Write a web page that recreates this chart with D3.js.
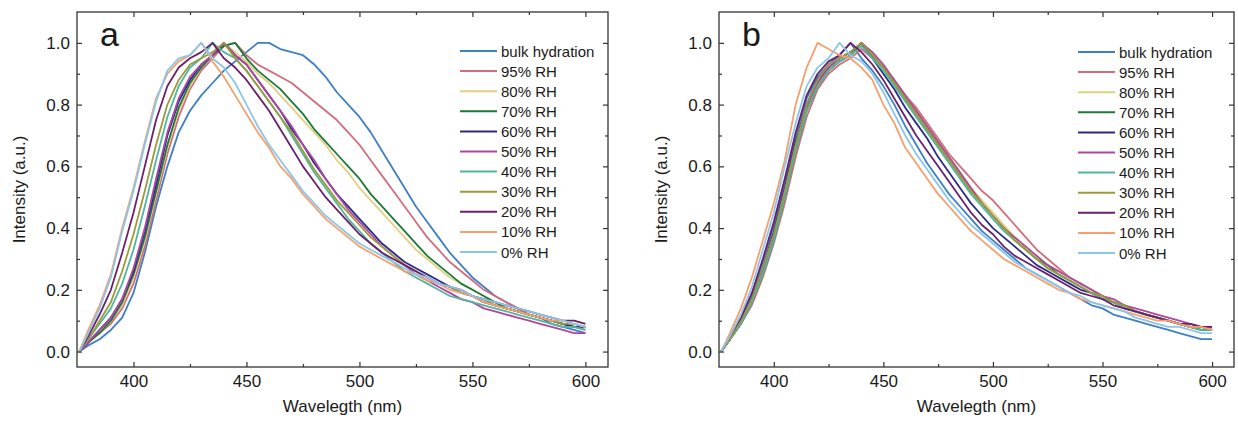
<!DOCTYPE html>
<html lang="en">
<head>
<meta charset="UTF-8">
<title>Hydration spectra</title>
<style>
  body { margin: 0; background: #fff; }
  text { font-family: Arial, "Liberation Sans", sans-serif; fill: #1a1a1a; }
</style>
</head>
<body>
<svg id="chart" width="1238" height="421"></svg>
<script src="https://d3js.org/d3.v7.min.js"></script>
<script>
// wavelength grid (nm) shared by every curve
const wavelengths = [376,380,385,390,395,400,405,410,415,420,425,430,435,440,445,450,455,460,465,470,475,480,485,490,495,500,505,510,515,520,525,530,535,540,545,550,555,560,565,570,575,580,585,590,595,600];

const seriesNames = ["bulk hydration","95% RH","80% RH","70% RH","60% RH","50% RH","40% RH","30% RH","20% RH","10% RH","0% RH"];
const seriesColors = ["#3d7fc6","#d26e7c","#e3cf80","#1b7a38","#2c2a88","#b0469f","#52b5a0","#9c9b3b","#6b1f6c","#f5a06c","#8bc6ea"];

// panel a
const aBulk = [0.00,0.02,0.04,0.07,0.11,0.19,0.32,0.47,0.60,0.71,0.78,0.83,0.87,0.91,0.94,0.97,1.00,1.00,0.98,0.97,0.96,0.93,0.89,0.84,0.80,0.76,0.71,0.65,0.59,0.53,0.47,0.42,0.37,0.32,0.28,0.24,0.21,0.18,0.16,0.14,0.12,0.11,0.09,0.08,0.07,0.06];
const a95 = [0.00,0.03,0.06,0.09,0.14,0.22,0.34,0.49,0.64,0.76,0.85,0.91,0.95,0.99,1.00,0.96,0.93,0.91,0.89,0.87,0.84,0.81,0.78,0.75,0.71,0.67,0.62,0.57,0.52,0.47,0.42,0.37,0.33,0.29,0.26,0.23,0.20,0.18,0.16,0.14,0.12,0.11,0.10,0.09,0.08,0.07];
const a80 = [0.00,0.03,0.06,0.10,0.15,0.24,0.36,0.51,0.66,0.78,0.86,0.92,0.96,1.00,0.97,0.94,0.90,0.87,0.83,0.79,0.75,0.71,0.67,0.62,0.58,0.53,0.49,0.45,0.41,0.37,0.33,0.30,0.27,0.24,0.22,0.20,0.18,0.16,0.14,0.13,0.12,0.11,0.10,0.09,0.08,0.08];
const a70 = [0.00,0.03,0.06,0.10,0.16,0.25,0.37,0.52,0.67,0.79,0.87,0.92,0.96,0.99,1.00,0.95,0.91,0.88,0.85,0.81,0.77,0.72,0.68,0.64,0.60,0.56,0.51,0.47,0.43,0.39,0.35,0.31,0.28,0.25,0.22,0.20,0.18,0.16,0.14,0.13,0.12,0.11,0.10,0.09,0.08,0.08];
const a60 = [0.00,0.03,0.07,0.11,0.17,0.26,0.39,0.54,0.70,0.81,0.88,0.93,0.96,1.00,0.96,0.93,0.88,0.83,0.78,0.72,0.67,0.61,0.56,0.51,0.47,0.43,0.39,0.35,0.32,0.29,0.27,0.25,0.23,0.21,0.19,0.18,0.16,0.15,0.14,0.13,0.12,0.11,0.10,0.09,0.08,0.08];
const a50 = [0.00,0.03,0.07,0.11,0.17,0.27,0.40,0.56,0.71,0.82,0.89,0.93,0.96,1.00,0.96,0.93,0.88,0.83,0.78,0.73,0.67,0.62,0.56,0.51,0.46,0.42,0.38,0.34,0.31,0.28,0.25,0.23,0.21,0.19,0.17,0.16,0.14,0.13,0.12,0.11,0.10,0.09,0.08,0.07,0.06,0.06];
const a40 = [0.00,0.04,0.09,0.14,0.22,0.33,0.47,0.62,0.76,0.86,0.92,0.95,1.00,0.97,0.95,0.91,0.86,0.81,0.76,0.70,0.64,0.58,0.53,0.48,0.43,0.39,0.35,0.32,0.29,0.26,0.24,0.22,0.20,0.18,0.17,0.16,0.15,0.14,0.13,0.12,0.11,0.10,0.09,0.08,0.08,0.07];
const a30 = [0.00,0.04,0.10,0.16,0.26,0.38,0.52,0.67,0.80,0.88,0.93,0.95,0.97,1.00,0.95,0.91,0.86,0.81,0.76,0.71,0.65,0.59,0.54,0.49,0.45,0.41,0.37,0.34,0.31,0.28,0.26,0.24,0.22,0.21,0.19,0.18,0.17,0.15,0.14,0.13,0.12,0.11,0.10,0.09,0.09,0.08];
const a20 = [0.00,0.05,0.12,0.20,0.32,0.45,0.60,0.75,0.86,0.92,0.95,0.97,1.00,0.95,0.92,0.88,0.83,0.78,0.72,0.66,0.60,0.55,0.50,0.46,0.42,0.38,0.35,0.32,0.30,0.28,0.26,0.24,0.22,0.21,0.20,0.18,0.17,0.16,0.15,0.14,0.13,0.12,0.11,0.10,0.10,0.09];
const a10 = [0.00,0.07,0.15,0.25,0.40,0.53,0.68,0.82,0.90,0.94,0.96,1.00,0.94,0.89,0.83,0.77,0.71,0.66,0.60,0.56,0.51,0.47,0.43,0.40,0.37,0.34,0.32,0.30,0.28,0.26,0.25,0.23,0.22,0.20,0.19,0.18,0.16,0.15,0.14,0.13,0.12,0.11,0.10,0.10,0.09,0.08];
const a0 = [0.00,0.06,0.14,0.24,0.39,0.52,0.67,0.81,0.91,0.95,0.96,1.00,0.95,0.92,0.87,0.80,0.73,0.67,0.62,0.57,0.52,0.48,0.44,0.41,0.38,0.35,0.33,0.31,0.29,0.27,0.25,0.24,0.22,0.21,0.20,0.18,0.17,0.16,0.15,0.14,0.13,0.12,0.11,0.10,0.09,0.08];

// panel b
const bBulk = [0.00,0.04,0.10,0.18,0.29,0.41,0.55,0.70,0.82,0.89,0.93,0.96,1.00,0.95,0.91,0.86,0.80,0.73,0.67,0.61,0.56,0.51,0.47,0.43,0.39,0.36,0.33,0.30,0.27,0.25,0.23,0.21,0.19,0.17,0.15,0.14,0.12,0.11,0.10,0.09,0.08,0.07,0.06,0.05,0.04,0.04];
const b95 = [0.00,0.04,0.09,0.15,0.24,0.35,0.48,0.63,0.76,0.85,0.90,0.93,0.95,0.98,0.95,0.92,0.88,0.83,0.79,0.74,0.69,0.64,0.60,0.56,0.52,0.49,0.45,0.41,0.37,0.33,0.30,0.27,0.24,0.22,0.20,0.18,0.16,0.15,0.13,0.12,0.11,0.10,0.09,0.08,0.07,0.07];
const b80 = [0.00,0.04,0.09,0.16,0.26,0.37,0.51,0.66,0.78,0.86,0.91,0.94,0.96,1.00,0.96,0.92,0.88,0.83,0.78,0.73,0.68,0.63,0.58,0.53,0.49,0.45,0.41,0.37,0.34,0.31,0.28,0.26,0.24,0.22,0.20,0.18,0.16,0.15,0.13,0.12,0.11,0.10,0.09,0.08,0.07,0.07];
const b70 = [0.00,0.04,0.09,0.16,0.25,0.36,0.50,0.65,0.78,0.86,0.91,0.94,0.96,1.00,0.96,0.92,0.87,0.82,0.77,0.72,0.67,0.62,0.57,0.52,0.48,0.44,0.40,0.36,0.33,0.30,0.28,0.25,0.23,0.21,0.19,0.18,0.16,0.15,0.13,0.12,0.11,0.10,0.09,0.08,0.07,0.07];
const b60 = [0.00,0.04,0.10,0.17,0.27,0.39,0.53,0.68,0.80,0.88,0.92,0.95,0.97,1.00,0.95,0.90,0.85,0.79,0.74,0.69,0.63,0.58,0.53,0.48,0.44,0.40,0.37,0.34,0.31,0.28,0.26,0.24,0.22,0.20,0.19,0.17,0.16,0.14,0.13,0.12,0.11,0.10,0.09,0.08,0.08,0.07];
const b50 = [0.00,0.04,0.09,0.16,0.26,0.37,0.51,0.66,0.79,0.87,0.92,0.95,0.97,1.00,0.97,0.93,0.88,0.83,0.78,0.73,0.68,0.63,0.58,0.53,0.48,0.44,0.40,0.37,0.34,0.31,0.28,0.26,0.24,0.22,0.20,0.18,0.17,0.15,0.14,0.13,0.12,0.11,0.10,0.09,0.08,0.08];
const b40 = [0.00,0.04,0.09,0.16,0.25,0.36,0.50,0.65,0.78,0.86,0.91,0.94,0.96,0.99,0.95,0.91,0.86,0.81,0.76,0.71,0.66,0.61,0.56,0.51,0.47,0.43,0.39,0.36,0.33,0.30,0.27,0.25,0.23,0.21,0.19,0.17,0.16,0.14,0.13,0.12,0.11,0.10,0.09,0.08,0.07,0.07];
const b30 = [0.00,0.04,0.10,0.17,0.27,0.38,0.52,0.67,0.80,0.88,0.93,0.95,0.97,1.00,0.96,0.92,0.87,0.82,0.77,0.72,0.67,0.62,0.57,0.52,0.48,0.44,0.40,0.36,0.33,0.30,0.27,0.25,0.23,0.21,0.19,0.18,0.16,0.15,0.13,0.12,0.11,0.10,0.09,0.08,0.08,0.07];
const b20 = [0.00,0.05,0.11,0.19,0.30,0.42,0.56,0.71,0.83,0.90,0.94,0.96,1.00,0.97,0.93,0.88,0.82,0.76,0.70,0.65,0.60,0.55,0.50,0.45,0.41,0.38,0.34,0.31,0.29,0.27,0.25,0.23,0.21,0.19,0.18,0.17,0.15,0.14,0.13,0.12,0.11,0.10,0.09,0.09,0.08,0.08];
const b10 = [0.00,0.06,0.14,0.24,0.36,0.48,0.62,0.80,0.92,1.00,0.98,0.96,0.95,0.92,0.88,0.80,0.74,0.66,0.61,0.56,0.51,0.47,0.43,0.39,0.36,0.33,0.30,0.28,0.26,0.24,0.22,0.20,0.19,0.17,0.16,0.15,0.14,0.13,0.12,0.11,0.10,0.10,0.09,0.08,0.08,0.07];
const b0 = [0.00,0.05,0.12,0.21,0.33,0.45,0.60,0.74,0.86,0.92,0.95,1.00,0.96,0.94,0.90,0.84,0.77,0.70,0.64,0.59,0.54,0.49,0.45,0.41,0.38,0.35,0.32,0.29,0.27,0.25,0.23,0.21,0.19,0.18,0.16,0.15,0.14,0.13,0.11,0.10,0.09,0.08,0.08,0.07,0.06,0.06];

const xTicks = [400,450,500,550,600];
const xMinor = [425,475,525,575];
const yTicks = [0,0.2,0.4,0.6,0.8,1.0];
const yMinor = [0.1,0.3,0.5,0.7,0.9];

const svg = d3.select("#chart");

function drawPanel(p) {
  const x = d3.scaleLinear().domain([375, 610]).range([p.left, p.right]);
  const y = d3.scaleLinear().domain([-0.05, 1.1]).range([p.bottom, p.top]);
  const g = svg.append("g");

  // curves first, frame on top
  const line = d3.line()
    .x((d, i) => x(wavelengths[i]))
    .y(d => y(d));
  g.selectAll("path.curve")
    .data(p.series)
    .enter().append("path")
      .attr("class", "curve")
      .attr("d", line)
      .attr("fill", "none")
      .attr("stroke", (d, i) => seriesColors[i])
      .attr("stroke-width", 1.8)
      .attr("stroke-linejoin", "round");

  // axes, ticks pointing inwards on all four sides
  function styleAxis(sel) {
    sel.select(".domain").remove();
    sel.selectAll("line").attr("stroke", "#333").attr("stroke-width", 1.2);
    sel.selectAll("text").attr("font-size", 17).attr("fill", "#1a1a1a")
      .attr("font-family", "Arial, 'Liberation Sans', sans-serif");
  }
  g.append("g").attr("transform", `translate(0,${p.bottom})`)
    .call(d3.axisBottom(x).tickValues(xTicks).tickSizeInner(-5).tickSizeOuter(0).tickPadding(8))
    .call(styleAxis);
  g.append("g").attr("transform", `translate(0,${p.bottom})`)
    .call(d3.axisBottom(x).tickValues(xMinor).tickSize(-3).tickFormat(""))
    .call(styleAxis);
  g.append("g").attr("transform", `translate(0,${p.top})`)
    .call(d3.axisTop(x).tickValues(xTicks).tickSize(-5).tickFormat(""))
    .call(styleAxis);
  g.append("g").attr("transform", `translate(0,${p.top})`)
    .call(d3.axisTop(x).tickValues(xMinor).tickSize(-3).tickFormat(""))
    .call(styleAxis);
  g.append("g").attr("transform", `translate(${p.left},0)`)
    .call(d3.axisLeft(y).tickValues(yTicks).tickSizeInner(-5).tickSizeOuter(0).tickPadding(7).tickFormat(d3.format(".1f")))
    .call(styleAxis);
  g.append("g").attr("transform", `translate(${p.left},0)`)
    .call(d3.axisLeft(y).tickValues(yMinor).tickSize(-3).tickFormat(""))
    .call(styleAxis);
  g.append("g").attr("transform", `translate(${p.right},0)`)
    .call(d3.axisRight(y).tickValues(yTicks).tickSize(-5).tickFormat(""))
    .call(styleAxis);
  g.append("g").attr("transform", `translate(${p.right},0)`)
    .call(d3.axisRight(y).tickValues(yMinor).tickSize(-3).tickFormat(""))
    .call(styleAxis);

  g.append("rect")
    .attr("x", p.left).attr("y", p.top)
    .attr("width", p.right - p.left).attr("height", p.bottom - p.top)
    .attr("fill", "none").attr("stroke", "#333").attr("stroke-width", 1.3);

  // axis titles
  g.append("text")
    .attr("x", (p.left + p.right) / 2).attr("y", 412)
    .attr("text-anchor", "middle").attr("font-size", 17)
    .text("Wavelegth (nm)");
  g.append("text")
    .attr("transform", `translate(${p.left - 52},${(p.top + p.bottom) / 2}) rotate(-90)`)
    .attr("text-anchor", "middle").attr("font-size", 17)
    .text("Intensity (a.u.)");

  // panel letter
  g.append("text")
    .attr("x", p.left + 23).attr("y", 46)
    .attr("font-size", 34)
    .text(p.letter);

  // legend
  const leg = g.append("g").attr("transform", `translate(${p.legendX},${p.legendY})`);
  const row = leg.selectAll("g").data(seriesNames).enter().append("g")
    .attr("transform", (d, i) => `translate(0,${i * 20.1})`);
  row.append("line")
    .attr("x1", 0).attr("x2", 37).attr("y1", 0).attr("y2", 0)
    .attr("stroke", (d, i) => seriesColors[i]).attr("stroke-width", 2);
  row.append("text")
    .attr("x", 41).attr("y", 5.5)
    .attr("font-size", 15)
    .text(d => d);
}

drawPanel({
  left: 77, right: 608, top: 12, bottom: 367,
  series: [aBulk, a95, a80, a70, a60, a50, a40, a30, a20, a10, a0],
  letter: "a", legendX: 460, legendY: 51
});
drawPanel({
  left: 719, right: 1234, top: 12, bottom: 367,
  series: [bBulk, b95, b80, b70, b60, b50, b40, b30, b20, b10, b0],
  letter: "b", legendX: 1078, legendY: 52
});
</script>
</body>
</html>
